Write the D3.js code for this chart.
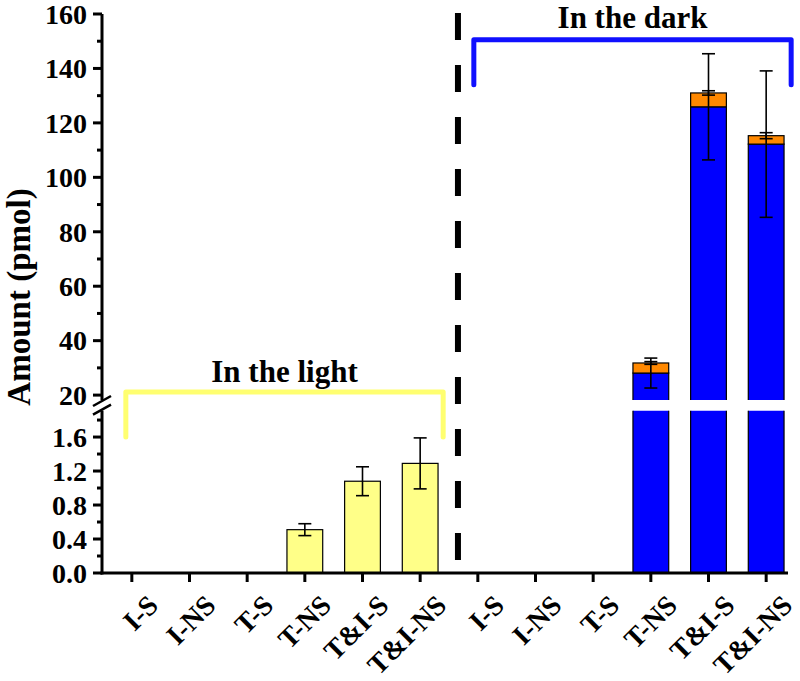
<!DOCTYPE html>
<html lang="en">
<head>
<meta charset="UTF-8">
<title>Amount in the light and in the dark</title>
<style>
  body { margin: 0; background: #fff; }
  text { font-family: "Liberation Serif", "DejaVu Serif", serif; font-weight: 700; }
</style>
</head>
<body>
<svg width="800" height="681"></svg>
<script src="https://d3js.org/d3.v7.min.js"></script>
<script>
var categories = ["I-S", "I-NS", "T-S", "T-NS", "T&I-S", "T&I-NS"];

// in the light (pmol)
var lightValues = [0, 0, 0, 0.51, 1.08, 1.29];
var lightErr    = [0, 0, 0, 0.07, 0.17, 0.30];

// in the dark (pmol), stacked blue + orange
var darkBlue      = [0, 0, 0, 28.1, 125.9, 112.2];
var darkBlueErr   = [0, 0, 0, 5.5, 19.5, 26.9];
var darkOrange    = [0, 0, 0, 3.7, 5.1, 3.1];
var darkOrangeErr = [0, 0, 0, 0.5, 0.8, 1.1];

var lowTicks = [0, 0.4, 0.8, 1.2, 1.6];
var lowMinor = [0.2, 0.6, 1.0, 1.4, 1.8];
var upTicks  = [20, 40, 60, 80, 100, 120, 140, 160];
var upMinor  = [30, 50, 70, 90, 110, 130, 150];

var svg = d3.select("svg");
var axisX = 102, baseY = 573;

var keys = categories.map(function(c) { return "L" + c; })
  .concat(categories.map(function(c) { return "D" + c; }));

var x = d3.scaleBand().domain(keys).range([103, 795])
    .paddingInner(0.38).paddingOuter(0.19);

var yLow = d3.scaleLinear().domain([0, 1.91]).range([baseY, 410.7]);
var yUp  = d3.scaleLinear().domain([18.2, 160]).range([400, 14]);

var defs = svg.append("defs");
defs.append("clipPath").attr("id", "clipUp").append("rect")
    .attr("x", 0).attr("width", 800).attr("y", 0).attr("height", yUp.range()[0]);
defs.append("clipPath").attr("id", "clipLow").append("rect")
    .attr("x", 0).attr("width", 800).attr("y", yLow.range()[1]).attr("height", baseY - yLow.range()[1] + 1);

var gLow = svg.append("g").attr("clip-path", "url(#clipLow)");
var gUp = svg.append("g").attr("clip-path", "url(#clipUp)");

function cx(k) { return x(k) + x.bandwidth() / 2; }

// light bars
categories.forEach(function(c, i) {
  var v = lightValues[i];
  if (v <= 0) return;
  gLow.append("rect")
      .attr("x", x("L" + c)).attr("width", x.bandwidth())
      .attr("y", yLow(v)).attr("height", yLow(0) - yLow(v))
      .attr("fill", "#ffff88").attr("stroke", "#000").attr("stroke-width", 1.2);
});

// dark bars: lower segment full, upper segment stacked
categories.forEach(function(c, i) {
  var b = darkBlue[i], o = darkOrange[i];
  if (b <= 0) return;
  var k = "D" + c;
  var topLow = Math.min(b, yLow.domain()[1] + 0.1);
  gLow.append("rect")
      .attr("x", x(k)).attr("width", x.bandwidth())
      .attr("y", yLow(topLow)).attr("height", yLow(0) - yLow(topLow))
      .attr("fill", "#0000ff").attr("stroke", "#000").attr("stroke-width", 1.2);
  gUp.append("rect")
      .attr("x", x(k)).attr("width", x.bandwidth())
      .attr("y", yUp(b)).attr("height", yUp(yUp.domain()[0] - 3) - yUp(b))
      .attr("fill", "#0000ff").attr("stroke", "#000").attr("stroke-width", 1.2);
  gUp.append("rect")
      .attr("x", x(k)).attr("width", x.bandwidth())
      .attr("y", yUp(b + o)).attr("height", yUp(b) - yUp(b + o))
      .attr("fill", "#ff8800").attr("stroke", "#000").attr("stroke-width", 1.2);
});

// error bars
function errBar(xc, y0, y1) {
  svg.append("line").attr("x1", xc).attr("x2", xc).attr("y1", y0).attr("y2", y1)
      .attr("stroke", "#000").attr("stroke-width", 1.6);
  [y0, y1].forEach(function(yy) {
    svg.append("line").attr("x1", xc - 6.5).attr("x2", xc + 6.5).attr("y1", yy).attr("y2", yy)
        .attr("stroke", "#000").attr("stroke-width", 1.6);
  });
}
categories.forEach(function(c, i) {
  if (lightErr[i] > 0)
    errBar(cx("L" + c), yLow(lightValues[i] - lightErr[i]), yLow(lightValues[i] + lightErr[i]));
  if (darkBlueErr[i] > 0)
    errBar(cx("D" + c), yUp(darkBlue[i] - darkBlueErr[i]), yUp(darkBlue[i] + darkBlueErr[i]));
  if (darkOrangeErr[i] > 0) {
    var t = darkBlue[i] + darkOrange[i];
    errBar(cx("D" + c), yUp(t - darkOrangeErr[i]), yUp(t + darkOrangeErr[i]));
  }
});

// y axes (broken)
var axUp = svg.append("g").attr("transform", "translate(" + axisX + ",0)");
axUp.append("line").attr("y1", yUp(160)).attr("y2", yUp.range()[0]).attr("stroke", "#000").attr("stroke-width", 3);
upTicks.forEach(function(t) {
  axUp.append("line").attr("x1", -9).attr("x2", 0).attr("y1", yUp(t)).attr("y2", yUp(t)).attr("stroke", "#000").attr("stroke-width", 3);
  axUp.append("text").attr("x", -15).attr("y", yUp(t)).attr("dy", "0.35em")
      .attr("text-anchor", "end").attr("font-size", 28).text(t);
});
upMinor.forEach(function(t) {
  axUp.append("line").attr("x1", -5).attr("x2", 0).attr("y1", yUp(t)).attr("y2", yUp(t)).attr("stroke", "#000").attr("stroke-width", 3);
});

var axLow = svg.append("g").attr("transform", "translate(" + axisX + ",0)");
axLow.append("line").attr("y1", yLow.range()[1]).attr("y2", baseY + 1.5).attr("stroke", "#000").attr("stroke-width", 3);
lowTicks.forEach(function(t) {
  axLow.append("line").attr("x1", -9).attr("x2", 0).attr("y1", yLow(t)).attr("y2", yLow(t)).attr("stroke", "#000").attr("stroke-width", 3);
  axLow.append("text").attr("x", -15).attr("y", yLow(t)).attr("dy", "0.35em")
      .attr("text-anchor", "end").attr("font-size", 28).text(d3.format(".1f")(t));
});
lowMinor.forEach(function(t) {
  axLow.append("line").attr("x1", -5).attr("x2", 0).attr("y1", yLow(t)).attr("y2", yLow(t)).attr("stroke", "#000").attr("stroke-width", 3);
});

// break marks
[yUp.range()[0] + 1, yLow.range()[1] - 1].forEach(function(yy) {
  axUp.append("line").attr("x1", -9).attr("x2", 9).attr("y1", yy + 5).attr("y2", yy - 5)
      .attr("stroke", "#000").attr("stroke-width", 2.5);
});

// x axis
var gx = svg.append("g");
gx.append("line").attr("x1", axisX - 1.5).attr("x2", 788).attr("y1", baseY).attr("y2", baseY)
    .attr("stroke", "#000").attr("stroke-width", 3);
keys.forEach(function(k, i) {
  var xc = cx(k);
  gx.append("line").attr("x1", xc).attr("x2", xc).attr("y1", baseY).attr("y2", baseY + 9)
      .attr("stroke", "#000").attr("stroke-width", 3);
  gx.append("text").attr("text-anchor", "end").attr("font-size", 28)
      .attr("transform", "translate(" + (xc + 14) + "," + (baseY + 20) + ") rotate(-45)")
      .attr("dy", "0.7em")
      .text(categories[i % categories.length]);
});

// dashed divider
var divX = x("D" + categories[0]) - 2;
svg.append("line").attr("x1", divX).attr("x2", divX).attr("y1", 13).attr("y2", 560)
    .attr("stroke", "#000").attr("stroke-width", 6).attr("stroke-dasharray", "27,25");

// brackets
function bracket(x0, x1, yTop, yLeg, color) {
  svg.append("path")
      .attr("d", "M" + x0 + "," + yLeg + "V" + yTop + "H" + x1 + "V" + yLeg)
      .attr("fill", "none").attr("stroke", color).attr("stroke-width", 5)
      .attr("stroke-linecap", "round").attr("stroke-linejoin", "round");
}
var lx0 = cx("L" + categories[0]) - 6, lx1 = cx("L" + categories[5]) + 23;
bracket(lx0, lx1, yUp(21.1), yLow(1.6), "#ffff70");
svg.append("text").attr("x", (lx0 + lx1) / 2).attr("y", 382).attr("text-anchor", "middle")
    .attr("font-size", 31).text("In the light");

var dx0 = cx("D" + categories[0]) - 4, dx1 = cx("D" + categories[5]) + 25;
bracket(dx0, dx1, yUp(150.5), yUp(134), "#1010ff");
svg.append("text").attr("x", (dx0 + dx1) / 2).attr("y", 28).attr("text-anchor", "middle")
    .attr("font-size", 31).text("In the dark");

// y label
svg.append("text").attr("transform", "translate(30,297) rotate(-90)")
    .attr("text-anchor", "middle").attr("font-size", 33).text("Amount (pmol)");
</script>
</body>
</html>
